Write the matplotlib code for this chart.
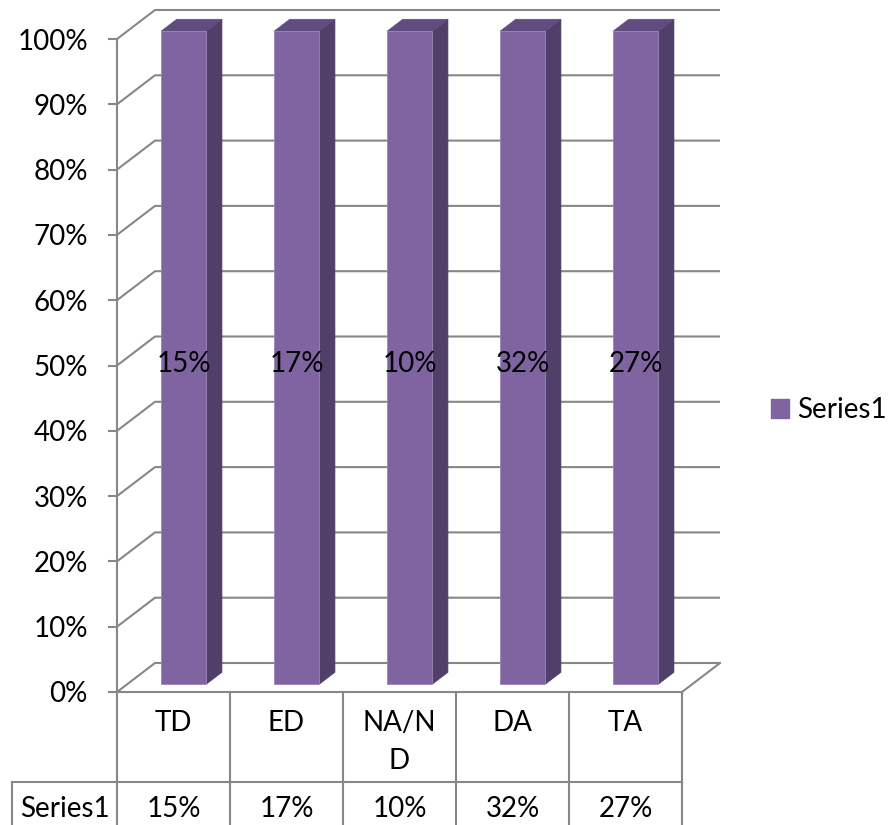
import matplotlib
matplotlib.use("Agg")
import matplotlib.pyplot as plt
from matplotlib.patches import Polygon, Patch
from matplotlib.ticker import FuncFormatter

# ---- data ----
categories = ["TD", "ED", "NA/N\nD", "DA", "TA"]
values = [15, 17, 10, 32, 27]            # shown in labels / data table
bar_share = [100, 100, 100, 100, 100]    # 100% stacked single series
y_ticks = [0, 10, 20, 30, 40, 50, 60, 70, 80, 90, 100]
series_name = "Series1"

# ---- style ----
plt.rcParams['font.family'] = ['Lato', 'DejaVu Sans']
FS = 20
GRID = '#878787'
FRONT = '#8064A2'
SIDE = '#503F69'
TOP = '#604C80'
LW = 1.5

W, H = 895, 825
fig = plt.figure(figsize=(W / 100, H / 100), dpi=100)
x0px, x1px, y0px, y1px = 117, 682, 692, 39
ax = fig.add_axes([x0px / W, (H - y0px) / H, (x1px - x0px) / W, (y0px - y1px) / H])
n = len(categories)
ax.set_xlim(0, n)
ax.set_ylim(0, 100)

# pixel -> data scale
sx = (x1px - x0px) / n
sy = (y0px - y1px) / 100.0
DX = 38 / sx   # depth offset in data units
DY = 29 / sy

# axes styling (front vertical axis)
for s in ['top', 'right']:
    ax.spines[s].set_visible(False)
ax.spines['left'].set_color(GRID)
ax.spines['left'].set_linewidth(LW)
ax.spines['bottom'].set_color(GRID)
ax.spines['bottom'].set_linewidth(LW)
ax.set_xticks([])
ax.set_yticks(y_ticks)
ax.yaxis.set_major_formatter(FuncFormatter(lambda v, p: f"{int(v)}%"))
ax.tick_params(axis='y', direction='out', length=6.5, width=LW, color=GRID,
               labelsize=FS, pad=14.5)
ax.set_facecolor('none')

def P(x, y, d):
    return (x + d * DX, y + d * DY)

# back wall / left wall gridlines
for t in y_ticks:
    xs, ys = zip(P(0, t, 0), P(0, t, 1), P(n, t, 1))
    ax.plot(xs, ys, color=GRID, lw=LW, clip_on=False, solid_capstyle='butt', zorder=1)
# floor right edge
xs, ys = zip(P(n, 0, 0), P(n, 0, 1))
ax.plot(xs, ys, color=GRID, lw=LW, clip_on=False, zorder=1)

# bars (3D look)
d0, dd = 0.27, 0.41
bw = 0.4
for i, h in enumerate(bar_share):
    xa = i + 0.5 - bw / 2 + d0 * DX
    xb = xa + bw
    yb = d0 * DY
    yt = yb + h
    front = Polygon([(xa, yb), (xb, yb), (xb, yt), (xa, yt)], closed=True,
                    facecolor=FRONT, edgecolor='#9A85B6', lw=0.6, clip_on=False, zorder=3)
    side = Polygon([(xb, yb), (xb + dd * DX, yb + dd * DY), (xb + dd * DX, yt + dd * DY), (xb, yt)],
                   closed=True, facecolor=SIDE, edgecolor=SIDE, lw=0.5, clip_on=False, zorder=3)
    top = Polygon([(xa, yt), (xb, yt), (xb + dd * DX, yt + dd * DY), (xa + dd * DX, yt + dd * DY)],
                  closed=True, facecolor=TOP, edgecolor=TOP, lw=0.5, clip_on=False, zorder=3)
    for p in (side, top, front):
        ax.add_patch(p)
    ax.text((xa + xb) / 2, (yb + yt) / 2 - 0.9, f"{values[i]}%", ha='center', va='center',
            fontsize=FS, color='black', zorder=5)

# data table
row1 = (y0px - 782) / sy
row_bot = (y0px - 840) / sy
left_tab = (12 - x0px) / sx
tl = dict(color=GRID, lw=LW, clip_on=False, zorder=2)
for k in range(n + 1):
    ax.plot([k, k], [0, row_bot], **tl)
ax.plot([left_tab, n], [row1, row1], **tl)
ax.plot([left_tab, left_tab], [row1, row_bot], **tl)

for i, c in enumerate(categories):
    ax.text(i + 0.5, (y0px - 710) / sy, c, ha='center', va='top', fontsize=FS,
            linespacing=1.55, clip_on=False)
    ax.text(i + 0.5, (y0px - 809) / sy, f"{values[i]}%", ha='center', va='center',
            fontsize=FS, clip_on=False)
ax.text(left_tab / 2, (y0px - 809) / sy, series_name, ha='center', va='center',
        fontsize=FS, clip_on=False)

# legend
fig.legend(handles=[Patch(facecolor=FRONT, edgecolor=FRONT)], labels=[series_name],
           loc='center left', bbox_to_anchor=(771 / W, 1 - 410 / H), frameon=False,
           fontsize=FS, handlelength=0.65, handleheight=0.65, handletextpad=0.3,
           borderpad=0, borderaxespad=0)

fig.savefig("out.png", dpi=100)
